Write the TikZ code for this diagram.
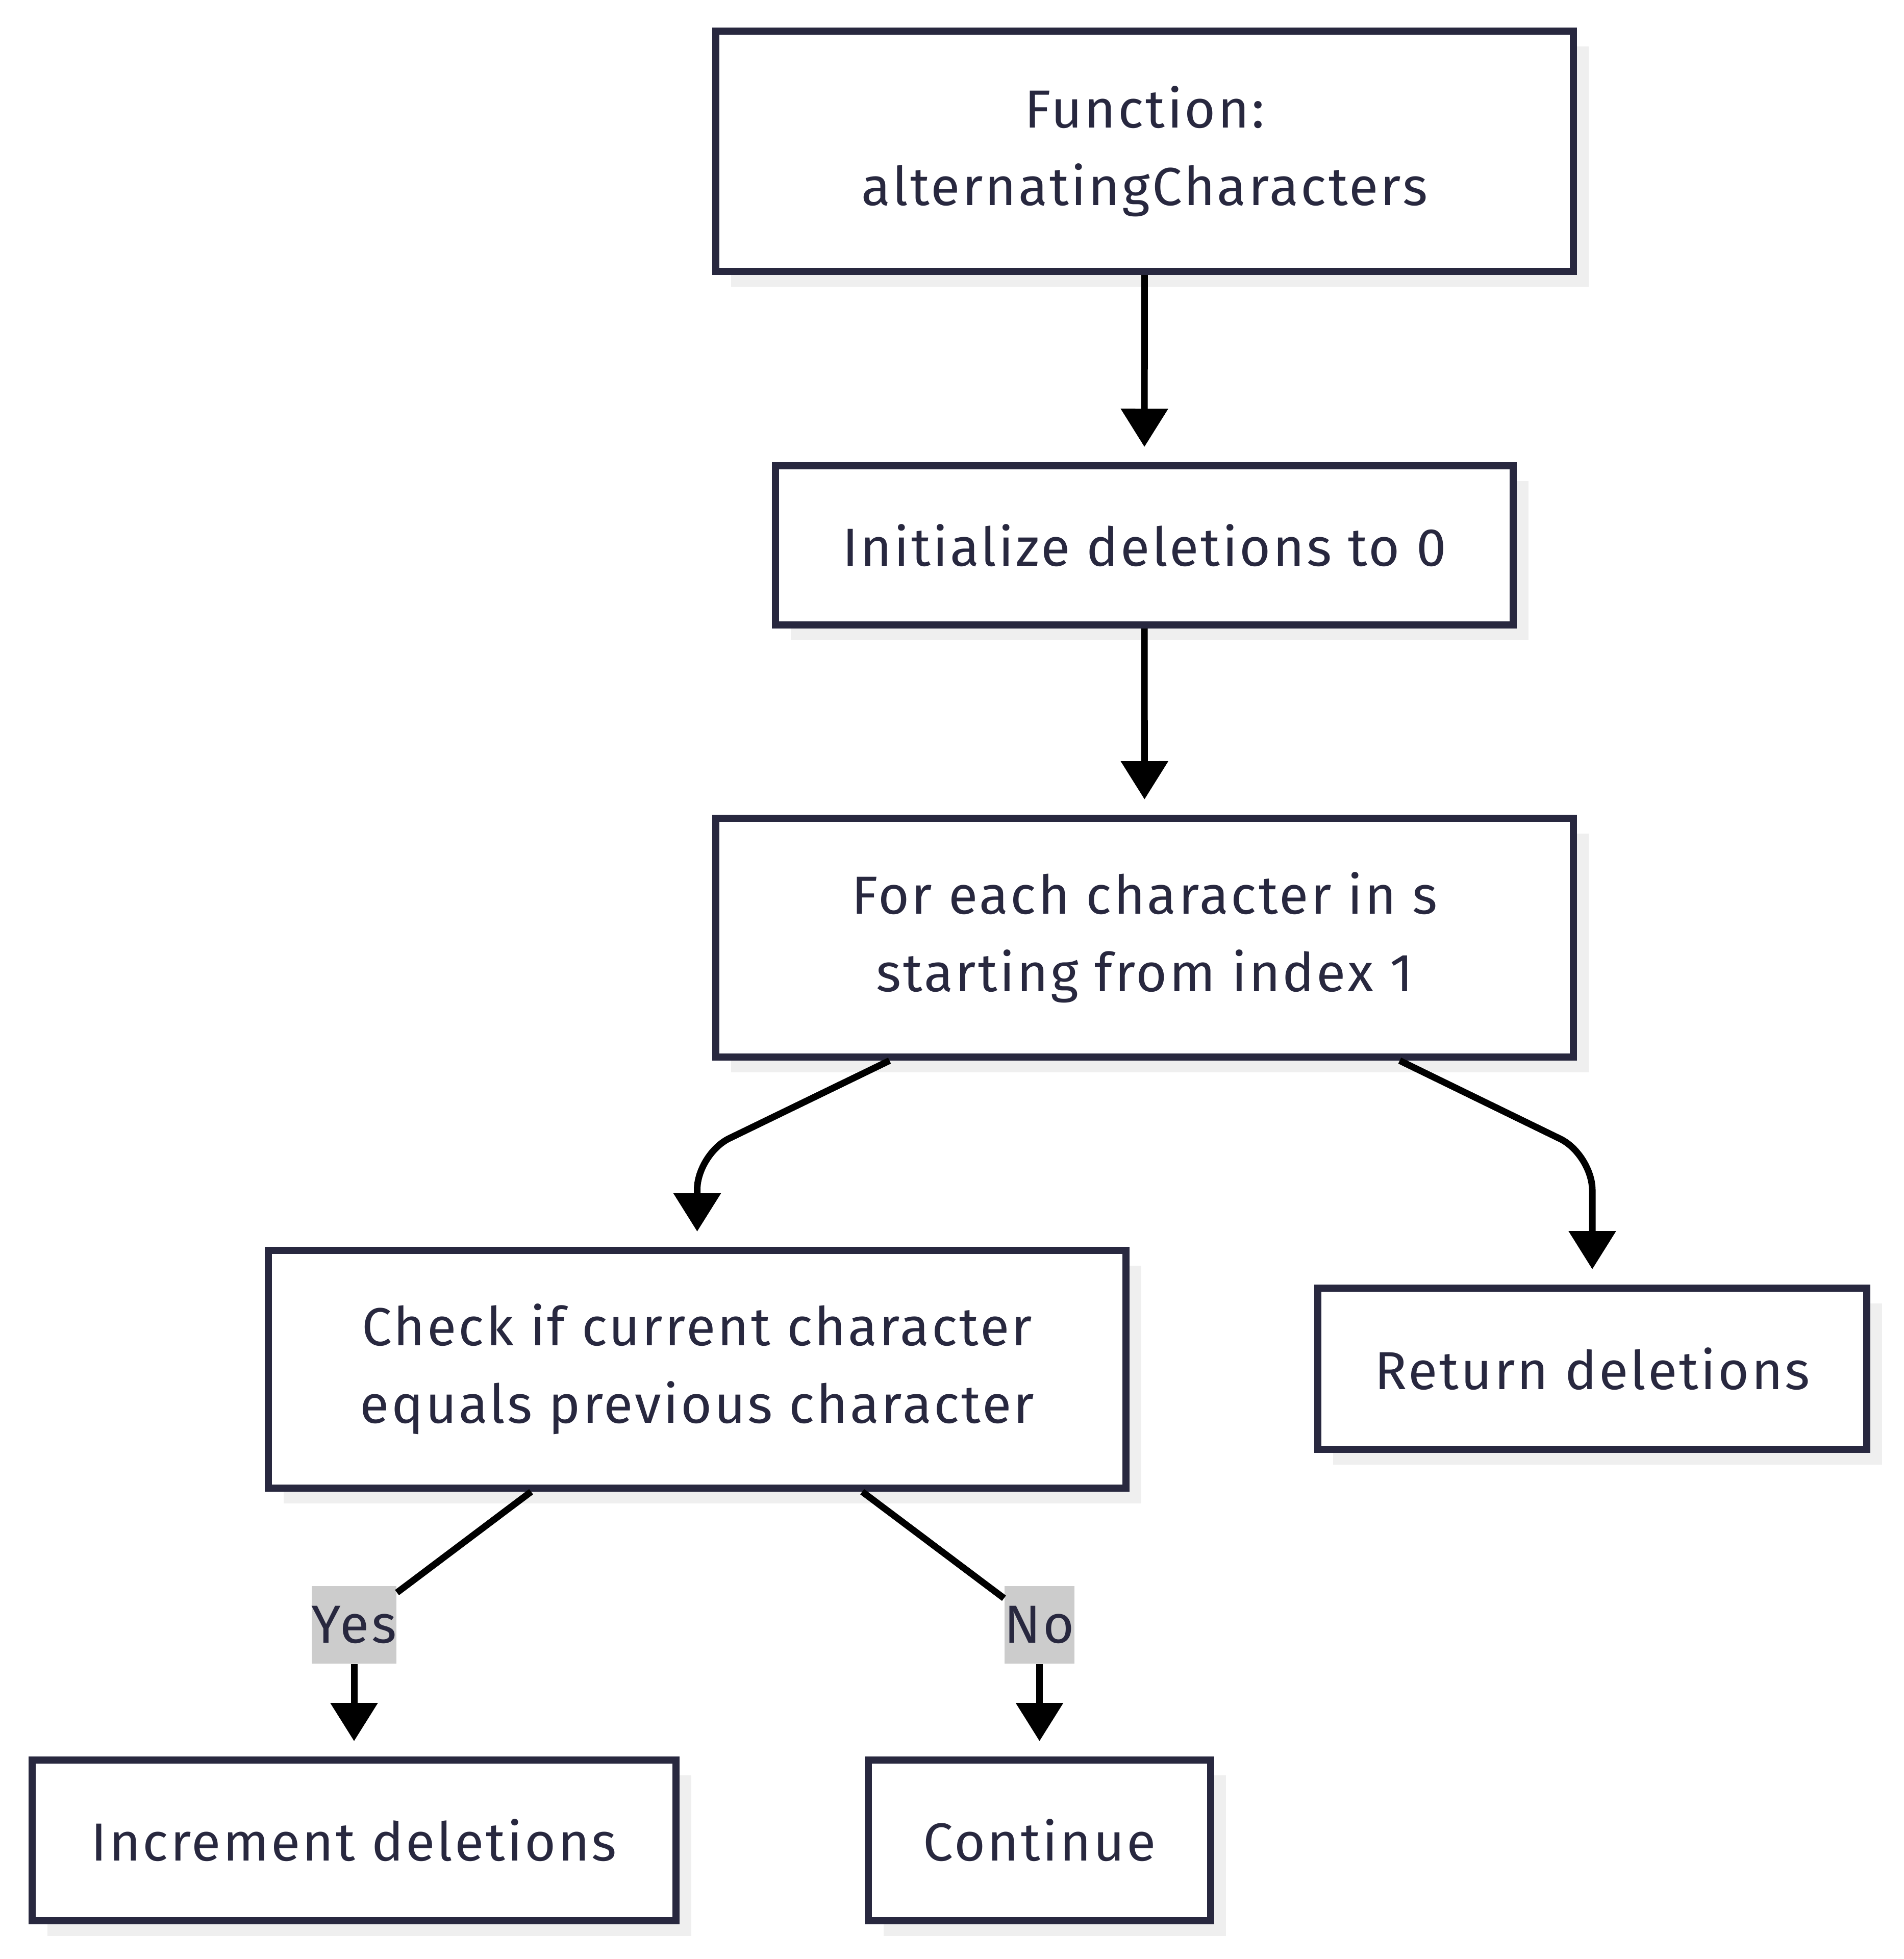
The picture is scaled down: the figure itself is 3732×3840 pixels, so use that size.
\documentclass[tikz,border=0pt]{standalone}
\usepackage{fontspec}
\setmainfont{Fira Sans}[LetterSpace=4]
\usetikzlibrary{arrows.meta, positioning, shadows}

\definecolor{boxline}{HTML}{28283F}
\definecolor{shade}{HTML}{EFEFEF}
\definecolor{lblfill}{HTML}{CCCCCC}

\tikzset{
  stepbox/.style={draw=boxline, line width=2.8pt, fill=white, text=boxline,
    align=center, inner sep=0pt, font=\fontsize{21}{30.4}\selectfont,
    general shadow={fill=shade, shadow xshift=6pt, shadow yshift=-6pt}},
  link/.style={draw=black, line width=2.6pt},
  flow/.style={link, -{Triangle[length=15pt,width=18pt]}, shorten >=6pt},
  lbl/.style={fill=lblfill, text=boxline, inner xsep=0pt, inner ysep=0pt,
    minimum height=30.4pt, font=\fontsize{21}{25}\selectfont}
}

\begin{document}
\begin{tikzpicture}[x=0.2pt, y=-0.2pt]
\useasboundingbox (0,0) rectangle (3732,3840);

% boxes
\node [stepbox, minimum width=336.2pt, minimum height=94.2pt] (fn) at (2243.5,296.5)
  {Function:\\alternatingCharacters};
\node [stepbox, minimum width=289.2pt, minimum height=62.4pt] (init) at (2243,1069)
  {Initialize deletions to 0};
\node [stepbox, minimum width=336.2pt, minimum height=93.6pt] (loop) at (2243.5,1838)
  {For each character in s\\starting from index 1};
\node [stepbox, minimum width=336.2pt, minimum height=93.2pt] (check) at (1366.5,2684)
  {Check if current character\\equals previous character};
\node [stepbox, minimum width=215.2pt, minimum height=63.2pt] (ret) at (3121,2683)
  {Return deletions};
\node [stepbox, minimum width=252.4pt, minimum height=63pt] (incr) at (694,3607.5)
  {Increment deletions};
\node [stepbox, minimum width=134.2pt, minimum height=63pt] (cont) at (2037.5,3607.5)
  {Continue};

% edge labels
\node [lbl, above=36.2pt of incr] (yes) {Yes};
\node [lbl, above=36.2pt of cont] (no) {No};

% connectors
\draw [flow] (fn) -- (init);
\draw [flow] (init) -- (loop);
\draw [flow, rounded corners=14pt] ([xshift=-100pt]loop.south)
  -- ([yshift=36.4pt]check.north) -- (check.north);
\draw [flow, rounded corners=14pt] ([xshift=100pt]loop.south)
  -- ([yshift=51pt]ret.north) -- (ret.north);
\draw [link] ([xshift=-65.1pt]check.south) -- (yes);
\draw [flow] (yes) -- (incr);
\draw [link] ([xshift=64.7pt]check.south) -- (no);
\draw [flow] (no) -- (cont);

\end{tikzpicture}
\end{document}
